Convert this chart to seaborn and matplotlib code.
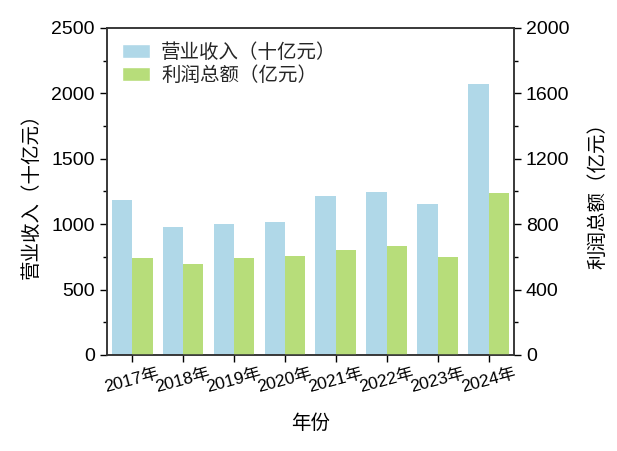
import numpy as np
import pandas as pd
import matplotlib
matplotlib.use('Agg')
import matplotlib.pyplot as plt
import seaborn as sns
from matplotlib.patches import Patch
from matplotlib.ticker import AutoMinorLocator, MultipleLocator

years = ['2017年', '2018年', '2019年', '2020年', '2021年', '2022年', '2023年', '2024年']
revenue = [1181, 982, 1003, 1018, 1217, 1247, 1156, 2071]   # 十亿元
profit = [590, 557, 590, 608, 641, 669, 602, 992]          # 亿元

rev_name = '营业收入（十亿元）'
prof_name = '利润总额（亿元）'
blue = '#B0D8E8'
green = '#B7DD7A'

nan = [np.nan] * len(years)
# left axis table: revenue only; right axis table: profit only (same hue slots for dodge)
df_left = pd.concat([
    pd.DataFrame({'year': years, 'series': rev_name, 'value': revenue}),
    pd.DataFrame({'year': years, 'series': prof_name, 'value': nan}),
], ignore_index=True)
df_right = pd.concat([
    pd.DataFrame({'year': years, 'series': rev_name, 'value': nan}),
    pd.DataFrame({'year': years, 'series': prof_name, 'value': profit}),
], ignore_index=True)

sns.set_theme(style='ticks')
plt.rcParams['font.family'] = ['Liberation Sans', 'Noto Sans CJK SC', 'DejaVu Sans']
plt.rcParams['axes.unicode_minus'] = False

fig = plt.figure(figsize=(6.17, 4.51), dpi=100)
ax1 = fig.add_axes([0.173, 0.213, 0.66, 0.725])
ax2 = ax1.twinx()

order = [rev_name, prof_name]
palette = {rev_name: blue, prof_name: green}
for a, d in ((ax1, df_left), (ax2, df_right)):
    sns.barplot(data=d, x='year', y='value', hue='series', hue_order=order,
                palette=palette, order=years, width=0.8, ax=a, legend=False,
                saturation=1, linewidth=0, errorbar=None)

ax1.set_xlim(-0.5, 7.5)
ax1.set_ylim(0, 2500)
ax2.set_ylim(0, 2000)
ax1.yaxis.set_major_locator(MultipleLocator(500))
ax2.yaxis.set_major_locator(MultipleLocator(400))
for a in (ax1, ax2):
    a.yaxis.set_minor_locator(AutoMinorLocator(2))
    a.tick_params(axis='y', which='major', direction='out', length=5, width=1,
                  labelsize=14, color='black', labelcolor='black')
    a.tick_params(axis='y', which='minor', direction='out', length=3, width=1,
                  color='black')
    for s in a.spines.values():
        s.set_visible(True)
        s.set_color('#333333')
        s.set_linewidth(1.1)

ax1.tick_params(axis='x', direction='out', length=5, width=1, labelsize=12.5,
                color='black', labelcolor='black', pad=3)
plt.setp(ax1.get_xticklabels(), rotation=15, ha='center')

ax1.set_xlabel('年份', fontsize=14, color='black', labelpad=14)
ax1.set_ylabel(rev_name, fontsize=14, color='black', labelpad=8)
ax2.set_ylabel(prof_name, fontsize=14, color='black', labelpad=14)

handles = [Patch(facecolor=blue, label=rev_name), Patch(facecolor=green, label=prof_name)]
ax1.legend(handles=handles, loc='upper left', frameon=False, fontsize=14,
           handlelength=1.4, handleheight=0.75, borderaxespad=0.4,
           labelspacing=0.2, handletextpad=0.6)

fig.savefig('out.png', dpi=100)
